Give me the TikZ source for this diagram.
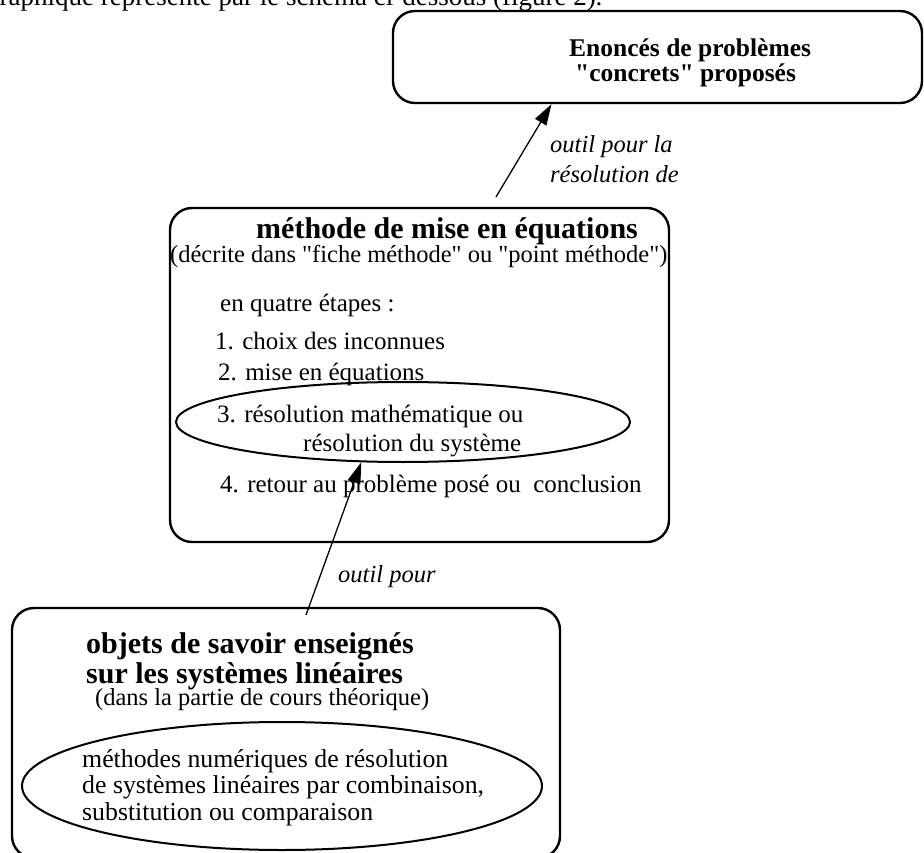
\documentclass[tikz,border=0pt]{standalone}
\usepackage{fontspec}
\setmainfont{Liberation Serif}
\usetikzlibrary{arrows.meta,shapes.geometric}
\begin{document}
\begin{tikzpicture}[x=1pt,y=-1pt,
    panel/.style={draw, line width=2.4pt, rounded corners=22pt, inner sep=0pt},
    oval/.style={draw, ellipse, line width=2pt, inner sep=0pt},
    txt/.style={anchor=base west, inner sep=0pt, font=\fontsize{25}{29}\selectfont},
    big/.style={txt, font=\fontsize{25.8}{29}\selectfont},
    head/.style={anchor=base west, inner sep=0pt, font=\fontsize{30}{30}\selectfont\bfseries},
    lbl/.style={anchor=base west, inner sep=0pt, font=\fontsize{24.5}{29}\selectfont\itshape},
    link/.style={line width=1.3pt, -{Triangle[length=21pt,width=13pt]}}]
  \useasboundingbox (0,0) rectangle (924,853);
  \clip (0,0) rectangle (924,853);

  \node[txt, font=\fontsize{27}{29}\selectfont] (legende) at (-14,6) {graphique représenté par le schéma ci-dessous (figure 2).};

  % boxes
  \node[panel, minimum width=529pt, minimum height=92pt] (enonces) at (657.5,57) {};
  \node[panel, minimum width=499pt, minimum height=334pt] (methode) at (419.5,375) {};
  \node[panel, minimum width=548pt, minimum height=250pt] (objets) at (286,733) {};

  % top box
  \node[head, font=\fontsize{25.5}{26}\selectfont\bfseries] (enonces1) at (569,57) {Enoncés de problèmes};
  \node[head, font=\fontsize{25.5}{26}\selectfont\bfseries] (enonces2) at (575,82) {\textquotedbl concrets\textquotedbl\ proposés};

  % middle box
  \node[head] (titre) at (256,239) {méthode de mise en équations};
  \node[txt, font=\fontsize{24.5}{29}\selectfont] (decrite) at (170,262) {(décrite dans \textquotedbl fiche méthode\textquotedbl\ ou \textquotedbl point méthode\textquotedbl)};
  \node[txt] (quatre) at (220,312) {en quatre étapes :};
  \node[txt] (etape1) at (215,349) {1. choix des inconnues};
  \node[txt] (etape2) at (218,380) {2. mise en équations};
  \node[oval, minimum width=454pt, minimum height=80pt] (etape3) at (403,422) {};
  \node[txt] (etape3a) at (217,422) {3. résolution mathématique ou};
  \node[txt] (etape3b) at (303,451) {résolution du système};
  \node[txt] (etape4) at (220,492) {4. retour au problème posé ou~ conclusion};

  % lower box
  \node[head] (objets1) at (86,653) {objets de savoir enseignés};
  \node[head] (objets2) at (86,683) {sur les systèmes linéaires};
  \node[txt, font=\fontsize{24.5}{29}\selectfont] (cours) at (95,705) {(dans la partie de cours théorique)};
  \node[oval, minimum width=520pt, minimum height=128pt] (numeriques) at (282,786) {};
  \node[big] (num1) at (82,767) {méthodes numériques de résolution};
  \node[big] (num2) at (82,793) {de systèmes linéaires par combinaison,};
  \node[big] (num3) at (82,820) {substitution ou comparaison};

  % connectors
  \coordinate (depart1) at (496,197);
  \coordinate (depart2) at (306,615);
  \draw[link] (depart1) -- (enonces.-156);
  \draw[link] (depart2) -- (etape3.-136);
  \node[lbl] (outil1a) at (550,153) {outil pour la};
  \node[lbl] (outil1b) at (550,183) {résolution de};
  \node[lbl] (outil2) at (338,582) {outil pour};
\end{tikzpicture}
\end{document}
